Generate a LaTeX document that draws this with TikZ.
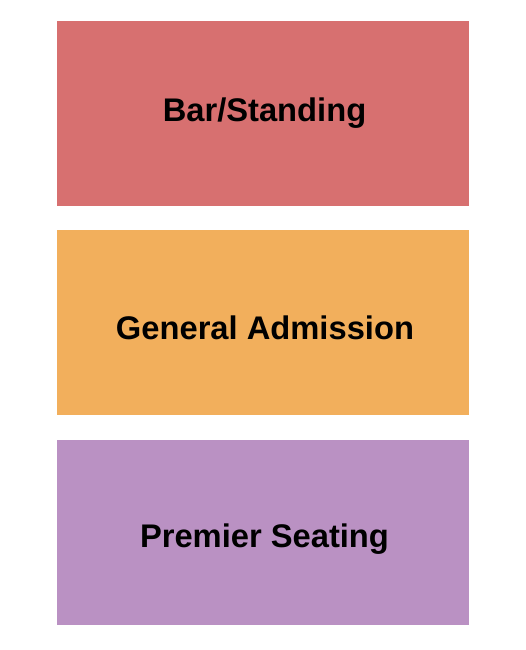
\documentclass[tikz,border=0pt]{standalone}
\usepackage{fontspec}
\setmainfont{Liberation Sans}
\definecolor{barc}{HTML}{D77070}
\definecolor{genc}{HTML}{F2AF5C}
\definecolor{prec}{HTML}{BA91C3}
\begin{document}
\begin{tikzpicture}[x=1pt,y=1pt,
  sect/.style={draw=none,minimum width=412pt,minimum height=185pt,inner sep=0pt},
  lbl/.style={inner sep=0pt,font=\fontsize{32.7}{36}\selectfont\bfseries,text=black}]
\useasboundingbox (0,0) rectangle (525,650);
\fill[white] (0,0) rectangle (525,650);
\node[sect,fill=barc] (bar) at (263,536.5) {};
\node[sect,fill=genc] (gen) at (263,327.25) {};
\node[sect,fill=prec] (pre) at (263,117.5) {};
\node[lbl] (barl) at ([xshift=1.5pt]bar.center) {Bar/Standing};
\node[lbl] (genl) at ([xshift=2pt,yshift=-5pt]gen.center) {General Admission};
\node[lbl] (prel) at ([xshift=1.5pt,yshift=-7pt]pre.center) {Premier Seating};
\end{tikzpicture}
\end{document}
